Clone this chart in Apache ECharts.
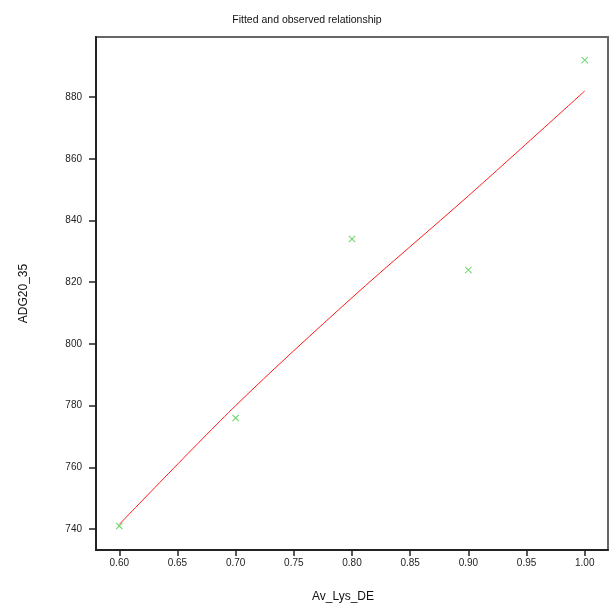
<!DOCTYPE html>
<html>
<head>
<meta charset="utf-8">
<script src="https://cdn.jsdelivr.net/npm/echarts@6/dist/echarts.min.js"></script>
<style>html,body{margin:0;padding:0;background:#fff}#c{width:614px;height:612px}</style>
</head>
<body>
<div id="c"></div>
<script>
const xObserved = [0.6, 0.7, 0.8, 0.9, 1.0];
const yObserved = [741, 776, 834, 824, 892];
const xFitted = [0.6, 0.7, 0.8, 0.9, 1.0];
const yFitted = [741.5, 780, 815, 848, 882];
const xTicks = [0.60, 0.65, 0.70, 0.75, 0.80, 0.85, 0.90, 0.95, 1.00];
const yTicks = [740, 760, 780, 800, 820, 840, 860, 880];

const chart = echarts.init(document.getElementById('c'), null, {renderer: 'canvas'});
const crossPath = 'path://M0,1L1,0L5,4L9,0L10,1L6,5L10,9L9,10L5,6L1,10L0,9L4,5Z';
chart.setOption({
  backgroundColor: '#fff',
  animation: false,
  title: {
    text: 'Fitted and observed relationship',
    left: 'center', top: 10,
    textStyle: {fontFamily: 'Liberation Sans', fontSize: 10.5, fontWeight: 'normal', color: '#111'}
  },
  grid: {left: 96, right: 6, top: 37, bottom: 62, show: true, borderColor: '#666', borderWidth: 2, backgroundColor: '#fff'},
  xAxis: {
    type: 'value', min: 0.58, max: 1.02,
    name: 'Av_Lys_DE', nameLocation: 'middle', nameGap: 41,
    nameTextStyle: {fontFamily: 'Liberation Sans', fontSize: 12, color: '#111', padding: [0, 18, 0, 0]},
    axisLine: {show: true, lineStyle: {color: '#222', width: 2}},
    axisTick: {show: true, length: 6, lineStyle: {color: '#222', width: 1.5}, customValues: xTicks},
    axisLabel: {margin: 8, fontFamily: 'Liberation Sans', fontSize: 10, color: '#222', customValues: xTicks,
      formatter: v => v.toFixed(2)},
    splitLine: {show: false}
  },
  yAxis: {
    type: 'value', min: 733.2, max: 899.5,
    name: 'ADG20_35', nameLocation: 'middle', nameGap: 66, nameRotate: 90,
    nameTextStyle: {fontFamily: 'Liberation Sans', fontSize: 12, color: '#111'},
    axisLine: {show: true, lineStyle: {color: '#222', width: 2}},
    axisTick: {show: true, length: 7, lineStyle: {color: '#222', width: 1.5}, customValues: yTicks},
    axisLabel: {margin: 14, fontFamily: 'Liberation Sans', fontSize: 10, color: '#222', customValues: yTicks},
    splitLine: {show: false}
  },
  series: [
    {
      type: 'line', data: xFitted.map((x, i) => [x, yFitted[i]]),
      showSymbol: false, smooth: 0.3, lineStyle: {color: '#ff1a1a', width: 1}, z: 2
    },
    {
      type: 'scatter', data: xObserved.map((x, i) => [x, yObserved[i]]),
      symbol: crossPath, symbolSize: 7, itemStyle: {color: '#3ccc3c'}, z: 3
    }
  ]
});
</script>
</body>
</html>
